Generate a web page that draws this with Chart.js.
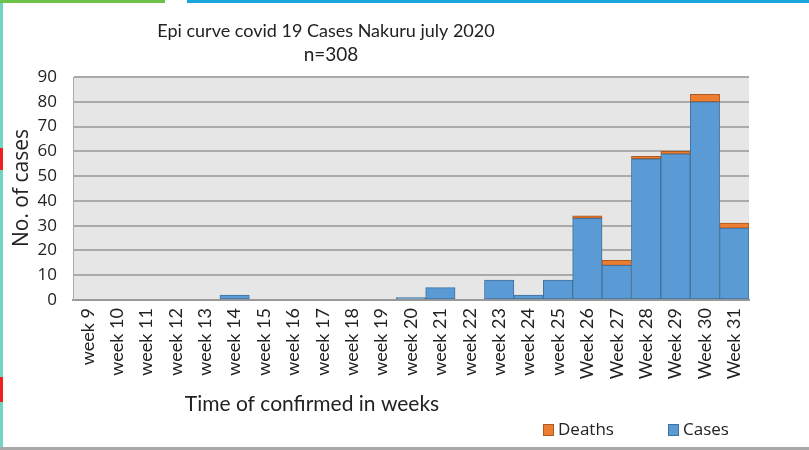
<!DOCTYPE html>
<html>
<head>
<meta charset="utf-8">
<script src="https://cdn.jsdelivr.net/npm/chart.js@4"></script>
<style>
  html, body { margin: 0; padding: 0; background: #fff; }
  #wrap { position: relative; width: 809px; height: 450px; overflow: hidden; }
  .topGreen { position: absolute; left: 0; top: 0; width: 165px; height: 3px; background: #6cc24a; }
  .topBlue { position: absolute; left: 187px; top: 0; width: 622px; height: 3px; background: #1aa6dd; }
  .leftLine { position: absolute; left: 0; top: 3px; width: 3px; height: 444px; background: #6fd6c0; }
  .redMark1 { position: absolute; left: 0; top: 148px; width: 3px; height: 22px; background: #f02020; }
  .redMark2 { position: absolute; left: 0; top: 377px; width: 3px; height: 25px; background: #f02020; }
  .bottomLine { position: absolute; left: 0; top: 447px; width: 809px; height: 3px; background: #a8a8a8; }
  canvas { position: absolute; left: 0; top: 0; }
</style>
</head>
<body>
<div id="wrap">
  <canvas id="epiChart" width="809" height="450"></canvas>
  <div class="topGreen"></div>
  <div class="topBlue"></div>
  <div class="leftLine"></div>
  <div class="redMark1"></div>
  <div class="redMark2"></div>
  <div class="bottomLine"></div>
</div>
<script>
const weeks = ['week 9', 'week 10', 'week 11', 'week 12', 'week 13', 'week 14', 'week 15',
  'week 16', 'week 17', 'week 18', 'week 19', 'week 20', 'week 21', 'week 22', 'week 23',
  'week 24', 'week 25', 'Week 26', 'Week 27', 'Week 28', 'Week 29', 'Week 30', 'Week 31'];
const cases  = [0, 0, 0, 0, 0, 2, 0, 0, 0, 0, 0, 1, 5, 0, 8, 2, 8, 33, 14, 57, 59, 80, 29];
const deaths = [0, 0, 0, 0, 0, 0, 0, 0, 0, 0, 0, 0, 0, 0, 0, 0, 0, 1, 2, 1, 1, 3, 2];
const yTicks = [0, 10, 20, 30, 40, 50, 60, 70, 80, 90];

const titleLines = ['Epi curve covid 19 Cases Nakuru july 2020', 'n=308'];
const xTitle = 'Time of confirmed in weeks';
const yTitle = 'No. of cases';

// grey plot background, the free-standing titles and the legend
const decor = {
  id: 'decor',
  beforeDraw(chart) {
    const { ctx, chartArea: a } = chart;
    ctx.save();
    ctx.fillStyle = '#e6e6e6';
    ctx.fillRect(a.left, a.top, a.right - a.left, a.bottom - a.top);
    ctx.restore();
  },
  afterDraw(chart) {
    const ctx = chart.ctx;
    ctx.save();
    ctx.fillStyle = '#222';
    ctx.textAlign = 'center';
    ctx.textBaseline = 'middle';
    ctx.font = '18px Lato';
    ctx.fillText(titleLines[0], 326, 31);
    ctx.font = '19px Lato';
    ctx.fillText(titleLines[1], 331, 55);
    ctx.font = '21px Lato';
    ctx.fillText(xTitle, 312, 404);

    // legend: Deaths first, then Cases
    ctx.textAlign = 'left';
    ctx.font = '17px "Open Sans"';
    const ds = chart.data.datasets;
    const spots = [{ d: ds[1], x: 543 }, { d: ds[0], x: 668 }];
    spots.forEach(s => {
      ctx.fillStyle = s.d.backgroundColor;
      ctx.fillRect(s.x, 424, 11, 12);
      ctx.strokeStyle = s.d.borderColor;
      ctx.lineWidth = 1;
      ctx.strokeRect(s.x + 0.5, 424.5, 10, 11);
      ctx.fillStyle = '#222';
      ctx.fillText(s.d.label, s.x + 15, 430);
    });

    ctx.textAlign = 'center';
    ctx.translate(22, 188);
    ctx.rotate(-Math.PI / 2);
    ctx.font = '21px "Open Sans"';
    ctx.fillText(yTitle, 0, 0);
    ctx.restore();
  }
};

new Chart(document.getElementById('epiChart'), {
  type: 'bar',
  data: {
    labels: weeks,
    datasets: [{
      label: 'Cases',
      data: cases,
      backgroundColor: '#5b9bd5',
      borderColor: '#41719c',
      borderWidth: 1,
      borderSkipped: false
    }, {
      label: 'Deaths',
      data: deaths,
      backgroundColor: '#ed7d31',
      borderColor: '#ae5a21',
      borderWidth: 1,
      borderSkipped: false
    }]
  },
  options: {
    responsive: false,
    animation: false,
    barPercentage: 1,
    categoryPercentage: 1,
    layout: { padding: { top: 77, right: 60, bottom: 0, left: 0 } },
    scales: {
      x: {
        stacked: true,
        grid: { display: false, drawTicks: false },
        border: { color: '#999', width: 2 },
        ticks: {
          minRotation: 90, maxRotation: 90, autoSkip: false,
          color: '#222', font: { family: 'Lato', size: 18 }, padding: 8
        },
        afterFit(scale) { scale.height = 150; }
      },
      y: {
        stacked: true,
        min: 0, max: 90,
        afterBuildTicks(scale) { scale.ticks = yTicks.map(v => ({ value: v })); },
        grid: { color: '#aaa', lineWidth: 2, drawTicks: false },
        border: { display: true, color: '#aaa', width: 1 },
        ticks: { color: '#222', font: { family: 'Open Sans', size: 17 }, padding: 16 },
        afterFit(scale) { scale.width = 73; }
      }
    },
    plugins: {
      legend: { display: false },
      tooltip: { enabled: false }
    }
  },
  plugins: [decor]
});
</script>
</body>
</html>
